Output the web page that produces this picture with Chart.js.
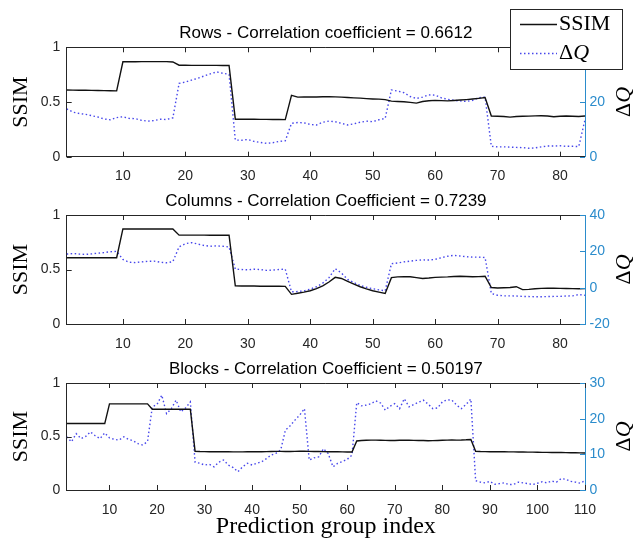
<!DOCTYPE html>
<html>
<head>
<meta charset="utf-8">
<script src="https://cdn.jsdelivr.net/npm/chart.js@4.4.1/dist/chart.umd.min.js"></script>
<style>
  body { margin: 0; background: #fff; }
  #wrap { position: relative; width: 642px; height: 546px; }
  canvas { position: absolute; left: 0; }
</style>
</head>
<body>
<div id="wrap">
  <canvas id="rows" width="642" height="188" style="top:0"></canvas>
  <canvas id="cols" width="642" height="168" style="top:188px"></canvas>
  <canvas id="blocks" width="642" height="190" style="top:356px"></canvas>
</div>
<script>
// --- data ---
const titles = [
    'Rows - Correlation coefficient = 0.6612',
    'Columns - Correlation Coefficient = 0.7239',
    'Blocks - Correlation Coefficient = 0.50197'
];

const rowsSsim = [0.610,0.609,0.608,0.607,0.606,0.605,0.604,0.603,0.602,
    0.868,0.868,0.868,0.869,0.869,0.869,0.869,0.869,0.866,
    0.836,0.836,0.835,0.835,0.835,0.835,0.835,0.834,0.834,
    0.343,0.343,0.342,0.342,0.341,0.341,0.340,0.340,0.339,
    0.560,0.545,0.547,0.546,0.546,0.548,0.548,0.547,0.545,0.541,
    0.538,0.535,0.531,0.528,0.526,0.522,0.508,0.505,0.502,0.497,
    0.490,0.505,0.512,0.515,0.513,0.510,0.514,0.518,0.522,0.527,
    0.533,0.540,
    0.372,0.370,0.368,0.362,0.368,0.370,0.371,0.373,0.374,0.372,
    0.365,0.370,0.372,0.370,0.368,0.372];
const rowsDq = [17.5,16.3,15.8,15.5,15.0,14.5,13.8,13.5,14.3,
    14.6,14.0,13.9,13.3,13.0,13.2,13.7,13.6,14.2,
    26.8,27.3,28.0,28.7,29.5,30.3,31.0,30.5,30.1,
    6.1,6.0,6.3,5.6,5.2,4.9,5.1,5.6,5.8,
    12.2,12.5,12.4,11.8,11.6,12.6,13.0,12.8,12.2,11.6,
    12.0,12.6,13.0,12.8,13.5,14.0,
    24.4,24.0,23.4,22.0,21.3,21.8,22.6,22.5,21.5,21.0,
    20.6,20.4,20.2,20.6,21.6,21.8,
    3.8,3.6,3.6,3.5,3.4,3.3,3.1,3.2,3.6,3.9,
    3.9,4.0,3.8,3.8,3.7,13.5];

const colsSsim = [0.608,0.608,0.608,0.608,0.608,0.608,0.608,0.608,0.608,
    0.872,0.872,0.872,0.872,0.872,0.872,0.872,0.872,0.872,
    0.815,0.815,0.815,0.815,0.815,0.814,0.814,0.814,0.814,
    0.350,0.349,0.349,0.348,0.347,0.347,0.346,0.346,0.345,
    0.272,0.282,0.292,0.305,0.325,0.350,0.385,0.428,0.418,0.392,
    0.365,0.342,0.322,0.305,0.292,0.280,
    0.425,0.432,0.435,0.433,0.425,0.418,0.422,0.428,0.430,0.432,
    0.436,0.438,0.436,0.433,0.435,0.438,
    0.335,0.330,0.333,0.335,0.342,0.315,0.318,0.324,0.327,0.328,
    0.328,0.327,0.326,0.325,0.324,0.325];
const colsDq = [18.5,18.8,18.5,18.3,18.6,19.0,19.3,19.8,20.0,
    15.5,14.0,13.8,14.2,14.5,14.6,14.0,13.7,14.3,
    22.5,24.2,24.8,24.0,23.2,22.8,23.0,22.8,22.4,
    10.2,10.0,9.8,10.2,10.0,9.5,9.7,10.0,10.2,
    -2.3,-2.1,-1.8,-0.8,0.5,2.5,5.5,10.5,8.0,4.5,
    2.8,1.2,0.2,-0.6,-1.2,-1.8,
    13.2,13.6,14.2,14.6,15.0,15.3,15.2,15.6,16.5,17.3,
    17.8,17.4,17.0,16.8,16.8,16.6,
    -3.2,-4.2,-4.5,-4.5,-4.6,-4.8,-4.9,-5.0,-5.0,-4.9,
    -4.8,-4.8,-4.6,-4.5,-3.8,-4.2];

const blocksSsim = [0.621,0.621,0.621,0.621,0.621,0.621,0.621,0.621,0.621,
    0.805,0.805,0.805,0.805,0.805,0.805,0.805,0.805,0.805,
    0.755,0.755,0.755,0.755,0.755,0.755,0.755,0.755,0.755,
    0.362,0.360,0.359,0.358,0.358,0.357,0.357,0.357,0.356,0.356,
    0.356,0.357,0.357,0.358,0.358,0.359,0.360,0.361,0.361,0.360,
    0.360,0.361,0.362,0.362,0.361,0.360,0.360,0.359,0.358,0.358,
    0.357,0.356,0.355,0.355,
    0.458,0.462,0.465,0.466,0.466,0.465,0.464,0.462,0.463,0.465,
    0.466,0.465,0.464,0.463,0.462,0.460,0.461,0.463,0.465,0.466,
    0.467,0.466,0.467,0.469,0.472,
    0.362,0.360,0.359,0.358,0.358,0.357,0.357,0.356,0.356,0.355,
    0.355,0.354,0.354,0.353,0.352,0.352,0.351,0.350,0.350,0.349,
    0.348,0.348,0.347,0.346];
const blocksDq = [14.9,13.5,15.8,14.4,15.0,16.3,15.2,14.4,16.0,
    14.6,14.2,14.0,14.9,14.2,13.8,13.0,12.6,13.6,
    23.3,24.0,26.6,21.4,22.8,25.2,21.9,23.0,24.7,
    7.8,7.5,7.0,7.2,6.5,7.8,8.4,7.0,6.3,5.1,
    6.5,7.5,7.0,7.5,7.9,8.8,9.8,10.3,11.2,16.8,
    18.0,19.6,21.0,22.8,8.4,9.0,9.3,11.6,10.2,6.5,
    7.5,8.0,8.6,9.8,
    24.5,23.6,23.8,24.2,25.0,24.4,22.4,23.5,24.2,22.8,
    25.6,23.3,24.0,24.6,25.2,24.1,22.8,23.0,24.7,25.3,
    25.2,23.8,22.8,24.0,25.5,
    2.6,2.2,2.0,2.4,1.6,1.8,2.0,1.5,1.6,2.2,
    2.0,1.8,1.5,1.9,2.3,2.0,2.5,2.2,3.2,3.0,
    2.4,2.2,1.9,2.6];

const rowsXTicks = [10, 20, 30, 40, 50, 60, 70, 80];
const blocksXTicks = [10, 20, 30, 40, 50, 60, 70, 80, 90, 100, 110];
const ssimTicks = [0, 0.5, 1];
const rowsQTicks = [0, 20, 40];
const colsQTicks = [-20, 0, 20, 40];
const blocksQTicks = [0, 10, 20, 30];

// --- styling ---
const AXIS = '#262626';
const BLUE = '#2b8ccc';
const DQ_COLOR = 'rgb(70,70,235)';
const SANS = 'Arial, "Liberation Sans", Helvetica, sans-serif';
const SERIF = '"Times New Roman", "Liberation Serif", serif';

function drawLegend(ctx) {
    ctx.save();
    ctx.fillStyle = '#fff';
    ctx.fillRect(510.5, 9.5, 112, 60);
    ctx.strokeStyle = AXIS;
    ctx.lineWidth = 1;
    ctx.strokeRect(510.5, 9.5, 112, 60);

    ctx.beginPath();
    ctx.strokeStyle = '#111';
    ctx.lineWidth = 1.4;
    ctx.moveTo(520, 24.5);
    ctx.lineTo(557, 24.5);
    ctx.stroke();

    ctx.beginPath();
    ctx.setLineDash([1.5, 2.5]);
    ctx.strokeStyle = DQ_COLOR;
    ctx.moveTo(520, 53.5);
    ctx.lineTo(557, 53.5);
    ctx.stroke();
    ctx.setLineDash([]);

    ctx.fillStyle = '#000';
    ctx.textBaseline = 'middle';
    ctx.font = `22px ${SERIF}`;
    ctx.fillText('SSIM', 559, 24);
    const wd = ctx.measureText('Δ').width;
    ctx.fillText('Δ', 559, 53);
    ctx.font = `italic 22px ${SERIF}`;
    ctx.fillText('Q', 559 + wd, 53);
    ctx.restore();
}

// inward ticks, top frame line, right axis label and legend
const framePlugin = {
    id: 'frame',
    afterDraw(chart, args, opts) {
        const { ctx, chartArea: a, scales } = chart;
        const L = 5;
        ctx.save();
        ctx.lineWidth = 1;
        ctx.strokeStyle = AXIS;
        ctx.beginPath();
        const top = Math.round(a.top) + 0.5;
        ctx.moveTo(a.left, top);
        ctx.lineTo(a.right, top);
        scales.x.ticks.forEach(t => {
            const px = Math.round(scales.x.getPixelForValue(t.value)) + 0.5;
            ctx.moveTo(px, a.bottom);
            ctx.lineTo(px, a.bottom - L);
            ctx.moveTo(px, a.top);
            ctx.lineTo(px, a.top + L);
        });
        scales.y.ticks.forEach(t => {
            const py = Math.round(scales.y.getPixelForValue(t.value)) + 0.5;
            ctx.moveTo(a.left, py);
            ctx.lineTo(a.left + L, py);
        });
        ctx.stroke();

        ctx.strokeStyle = BLUE;
        ctx.beginPath();
        scales.y2.ticks.forEach(t => {
            const py = Math.round(scales.y2.getPixelForValue(t.value)) + 0.5;
            ctx.moveTo(a.right, py);
            ctx.lineTo(a.right - L, py);
        });
        ctx.stroke();

        // ΔQ label, reading bottom to top
        ctx.translate(624, (a.top + a.bottom) / 2);
        ctx.rotate(-Math.PI / 2);
        ctx.fillStyle = '#000';
        ctx.textBaseline = 'middle';
        const f1 = `22px ${SERIF}`, f2 = `italic 22px ${SERIF}`;
        ctx.font = f1;
        const w1 = ctx.measureText('Δ').width;
        ctx.font = f2;
        const w2 = ctx.measureText('Q').width;
        const x0 = -(w1 + w2) / 2;
        ctx.font = f1;
        ctx.fillText('Δ', x0, 0);
        ctx.font = f2;
        ctx.fillText('Q', x0 + w1, 0);
        ctx.restore();

        if (opts.legend) drawLegend(ctx);
    }
};

function makeChart(id, o) {
    const idx = o.ssim.map((_, i) => i + 1);
    const tickFont = { family: SANS, size: 14 };
    return new Chart(document.getElementById(id), {
        type: 'line',
        data: {
            labels: idx,
            datasets: [
                { label: 'SSIM', data: o.ssim, yAxisID: 'y', borderColor: '#111', borderWidth: 1.4, pointRadius: 0 },
                { label: 'ΔQ', data: o.dq, yAxisID: 'y2', borderColor: DQ_COLOR, borderWidth: 1.4, borderDash: [1.5, 2.5], pointRadius: 0 }
            ]
        },
        options: {
            responsive: false,
            animation: false,
            devicePixelRatio: 1,
            layout: { padding: 0 },
            plugins: {
                legend: { display: false },
                tooltip: { enabled: false },
                title: {
                    display: true,
                    text: o.title,
                    fullSize: false,
                    color: '#000',
                    font: { family: SANS, size: 17, weight: 'normal' },
                    padding: { top: o.titleTop, bottom: 3.8 }
                },
                frame: { legend: !!o.legend }
            },
            scales: {
                x: {
                    type: 'linear',
                    min: 1,
                    max: idx.length,
                    afterBuildTicks: s => { s.ticks = o.xTicks.map(v => ({ value: v })); },
                    afterFit: s => { s.height = o.xHeight; },
                    grid: { display: false, drawTicks: false },
                    border: { color: AXIS, width: 1 },
                    ticks: { color: AXIS, font: tickFont, padding: 11.5, maxRotation: 0, autoSkip: false, callback: v => String(v) },
                    title: o.xTitle ? {
                        display: true,
                        text: o.xTitle,
                        color: '#000',
                        font: { family: SERIF, size: 24 },
                        padding: { top: 0, bottom: 4.6 }
                    } : { display: false }
                },
                y: {
                    position: 'left',
                    min: 0,
                    max: 1,
                    afterBuildTicks: s => { s.ticks = ssimTicks.map(v => ({ value: v })); },
                    afterFit: s => { s.width = 66.7; },
                    grid: { display: false, drawTicks: false },
                    border: { color: AXIS, width: 1 },
                    ticks: { color: AXIS, font: tickFont, padding: 6.5, callback: v => String(v) },
                    title: {
                        display: true,
                        text: 'SSIM',
                        color: '#000',
                        font: { family: SERIF, size: 22 },
                        padding: { top: 8.2, bottom: 0 }
                    }
                },
                y2: {
                    position: 'right',
                    min: o.qTicks[0],
                    max: o.qTicks[o.qTicks.length - 1],
                    afterBuildTicks: s => { s.ticks = o.qTicks.map(v => ({ value: v })); },
                    afterFit: s => { s.width = 57; },
                    grid: { display: false, drawTicks: false },
                    border: { color: BLUE, width: 1 },
                    ticks: { color: BLUE, font: tickFont, padding: 4.5, callback: v => String(v) }
                }
            }
        },
        plugins: [framePlugin]
    });
}

makeChart('rows', {
    title: titles[0], ssim: rowsSsim, dq: rowsDq, xTicks: rowsXTicks, qTicks: rowsQTicks,
    titleTop: 23.1, xHeight: 31.3, legend: true
});
makeChart('cols', {
    title: titles[1], ssim: colsSsim, dq: colsDq, xTicks: rowsXTicks, qTicks: colsQTicks,
    titleTop: 2.8, xHeight: 32
});
makeChart('blocks', {
    title: titles[2], ssim: blocksSsim, dq: blocksDq, xTicks: blocksXTicks, qTicks: blocksQTicks,
    titleTop: 2.8, xHeight: 56, xTitle: 'Prediction group index'
});
</script>
</body>
</html>
